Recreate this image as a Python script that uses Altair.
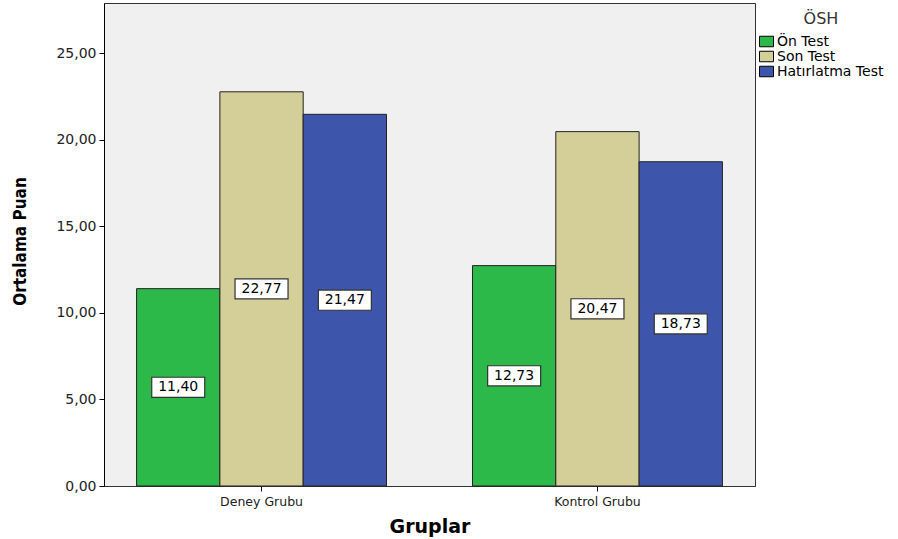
import altair as alt
import pandas as pd

groups = ["Deney Grubu", "Kontrol Grubu"]
tests = ["Ön Test", "Son Test", "Hatırlatma Test"]
deney = [11.40, 22.77, 21.47]
kontrol = [12.73, 20.47, 18.73]
colors = ["#2DB84A", "#D4CE99", "#3D56AB"]
y_ticks = [0, 5, 10, 15, 20, 25]

rows = []
for g, vals in zip(groups, [deney, kontrol]):
    for t, v in zip(tests, vals):
        rows.append({"Grup": g, "Test": t, "Puan": v, "Orta": v / 2})
df = pd.DataFrame(rows)

FONT = "DejaVu Sans"
NARROW = "DejaVu Sans Condensed, Roboto Condensed, Liberation Sans Narrow, Liberation Sans, DejaVu Sans, sans-serif"

x_enc = alt.X("Grup:N", sort=groups,
              scale=alt.Scale(paddingInner=0.256, paddingOuter=0.097),
              axis=alt.Axis(title="Gruplar", labelAngle=0, tickSize=5, tickColor="#000",
                            domainColor="#333", labelFont=FONT, labelFontSize=12.5,
                            labelColor="#222", labelPadding=4,
                            titleFont=FONT, titleFontSize=19, titleFontWeight="bold",
                            titleColor="#000", titleY=40, titleBaseline="middle"))
xo_enc = alt.XOffset("Test:N", sort=tests, scale=alt.Scale(paddingInner=0, paddingOuter=0))
y_scale = alt.Scale(domain=[0, 27.9], nice=False, zero=True)

bars = alt.Chart(df).mark_bar(stroke="#222", strokeWidth=1).encode(
    x=x_enc,
    xOffset=xo_enc,
    y=alt.Y("Puan:Q", scale=y_scale,
            axis=alt.Axis(values=y_ticks, grid=False, tickSize=5, tickColor="#000",
                          domainColor="#000",
                          labelExpr="replace(format(datum.value, '.2f'), '.', ',')",
                          labelFont=FONT, labelFontSize=14, labelColor="#222",
                          labelPadding=3,
                          title="Ortalama Puan", titleFont=NARROW,
                          titleFontSize=17, titleFontWeight="bold", titleColor="#000",
                          titleX=-84, titleY=238, titleAngle=270,
                          titleAlign="center", titleBaseline="middle")),
    color=alt.Color("Test:N", sort=tests,
                    scale=alt.Scale(domain=tests, range=colors),
                    legend=alt.Legend(title="ÖSH", orient="none", legendX=655, legendY=8,
                                      titleFont=FONT, titleFontSize=16, titleFontWeight="normal",
                                      titleColor="#333", titleAnchor="middle", titlePadding=7,
                                      labelFont=FONT, labelFontSize=14, labelColor="#000",
                                      symbolType="M-1,-0.75L1,-0.75L1,0.75L-1,0.75Z",
                                      symbolSize=196, symbolStrokeColor="#000",
                                      symbolStrokeWidth=1, symbolOpacity=1,
                                      labelOffset=3, rowPadding=0)),
)

boxes = alt.Chart(df).mark_point(
    shape="M-1,-0.38L1,-0.38L1,0.38L-1,0.38Z", size=2809,
    filled=True, fill="white", stroke="#333", strokeWidth=1.2, opacity=1
).encode(
    x=alt.X("Grup:N", sort=groups),
    xOffset=alt.XOffset("Test:N", sort=tests),
    y=alt.Y("Orta:Q", scale=y_scale),
)

labels = alt.Chart(df).mark_text(font=FONT, fontSize=14, color="#000", baseline="middle").encode(
    x=alt.X("Grup:N", sort=groups),
    xOffset=alt.XOffset("Test:N", sort=tests),
    y=alt.Y("Orta:Q", scale=y_scale),
    text=alt.Text("label:N"),
).transform_calculate(label="replace(format(datum.Puan, '.2f'), '.', ',')")

chart = alt.layer(bars, boxes, labels).properties(
    width=651, height=483,
    autosize=alt.AutoSizeParams(type="none"),
    padding={"left": 104, "top": 3, "right": 143, "bottom": 53},
    background="white",
).configure_view(fill="#F0F0F0", stroke="#333", strokeWidth=1)

chart.save("out.html", embed_options={"renderer": "svg", "actions": False})
